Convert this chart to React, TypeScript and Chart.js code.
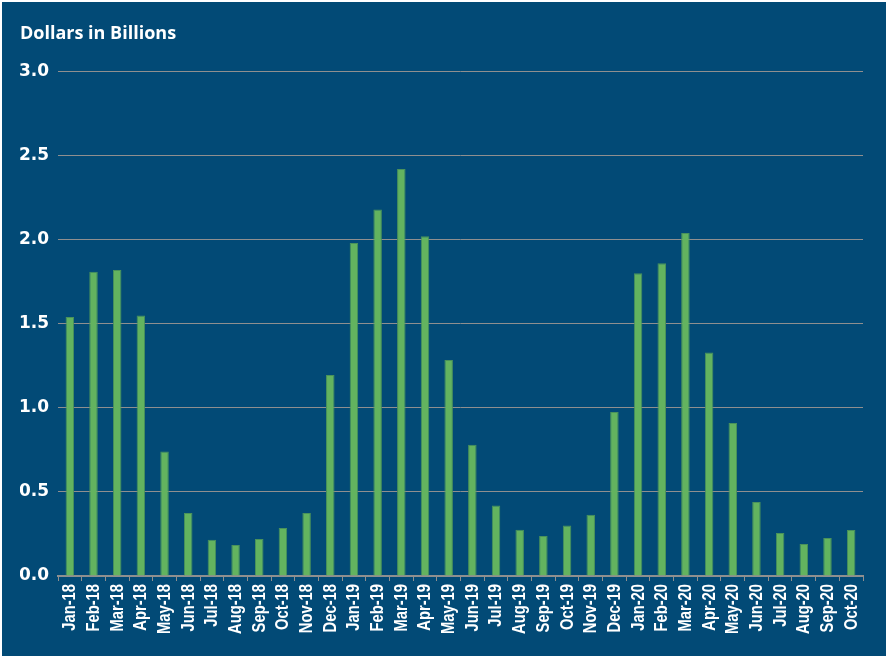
import React, { useEffect, useRef } from "react";
import { Chart, registerables } from "chart.js";

Chart.register(...registerables);

const categories: string[] = [
  "Jan-18", "Feb-18", "Mar-18", "Apr-18", "May-18", "Jun-18", "Jul-18", "Aug-18", "Sep-18", "Oct-18", "Nov-18", "Dec-18",
  "Jan-19", "Feb-19", "Mar-19", "Apr-19", "May-19", "Jun-19", "Jul-19", "Aug-19", "Sep-19", "Oct-19", "Nov-19", "Dec-19",
  "Jan-20", "Feb-20", "Mar-20", "Apr-20", "May-20", "Jun-20", "Jul-20", "Aug-20", "Sep-20", "Oct-20",
];

const values2018: number[] = [1.54, 1.81, 1.82, 1.55, 0.74, 0.375, 0.215, 0.185, 0.22, 0.285, 0.375, 1.195];
const values2019: number[] = [1.98, 2.18, 2.42, 2.02, 1.285, 0.78, 0.42, 0.275, 0.238, 0.30, 0.365, 0.976];
const values2020: number[] = [1.80, 1.86, 2.04, 1.33, 0.91, 0.44, 0.256, 0.19, 0.226, 0.274];

const yTicks: number[] = [0, 0.5, 1.0, 1.5, 2.0, 2.5, 3.0];
const yTitle = "Dollars in Billions";

const BG = "#024a76";

const bgPlugin = {
  id: "bgFill",
  beforeDraw(chart: any) {
    const { ctx, width, height } = chart;
    ctx.save();
    ctx.fillStyle = BG;
    ctx.fillRect(0, 0, width, height);
    ctx.restore();
  },
};

// Condensed, rotated category labels drawn from the category scale
const xLabelPlugin = {
  id: "condensedXLabels",
  afterDraw(chart: any) {
    const { ctx } = chart;
    const xScale = chart.scales.x;
    const bottom = chart.chartArea.bottom;
    ctx.save();
    ctx.fillStyle = "#ffffff";
    ctx.font = "bold 18px 'Liberation Sans', Arial, sans-serif";
    ctx.textAlign = "right";
    ctx.textBaseline = "middle";
    const labels: string[] = chart.data.labels;
    labels.forEach((lab, i) => {
      const x = xScale.getPixelForTick(i);
      ctx.save();
      ctx.translate(x + 0.5, bottom + 8);
      ctx.rotate(-Math.PI / 2);
      ctx.scale(0.82, 1);
      ctx.fillText(lab, 0, 0);
      ctx.restore();
    });
    ctx.restore();
  },
};

export default function App() {
  const ref = useRef<HTMLCanvasElement | null>(null);

  useEffect(() => {
    if (!ref.current) return;
    const values = [...values2018, ...values2019, ...values2020];
    const chart = new Chart(ref.current, {
      type: "bar",
      data: {
        labels: categories,
        datasets: [
          {
            data: values,
            backgroundColor: "#63b35f",
            borderColor: "#4a925b",
            borderWidth: 1,
            barPercentage: 0.36,
            categoryPercentage: 1,
          },
        ],
      },
      options: {
        responsive: false,
        animation: false,
        layout: { padding: { left: 18, right: 23, top: 21, bottom: 75 } },
        plugins: {
          legend: { display: false },
          tooltip: { enabled: false },
          title: {
            display: true,
            text: yTitle,
            align: "start",
            color: "#ffffff",
            font: { family: "'Open Sans', 'Liberation Sans', sans-serif", size: 18, weight: "bold" },
            padding: { top: 0, bottom: 27 },
          },
        },
        scales: {
          x: {
            offset: true,
            grid: {
              display: true,
              offset: true,
              drawOnChartArea: false,
              drawTicks: true,
              tickLength: 5,
              color: "#8f8f8f",
            },
            border: { display: true, color: "#8f8f8f", width: 2 },
            ticks: {
              display: false,
              autoSkip: false,
            },
          },
          y: {
            min: 0,
            max: 3,
            afterBuildTicks(scale: any) {
              scale.ticks = yTicks.map((v) => ({ value: v }));
            },
            afterFit(scale: any) {
              scale.width = 38;
            },
            grid: { color: "#8f8f8f", drawTicks: false, lineWidth: 1 },
            border: { display: false },
            ticks: {
              color: "#ffffff",
              padding: 9,
              font: { family: "'DejaVu Sans', 'Liberation Sans', sans-serif", size: 17, weight: "bold" },
              callback: (v: any) => Number(v).toFixed(1),
            },
          },
        },
      },
      plugins: [bgPlugin, xLabelPlugin],
    });
    return () => chart.destroy();
  }, []);

  return (
    <div style={{ position: "fixed", left: 0, top: 0, width: 886, height: 656, background: "#ffffff" }}>
      <canvas
        ref={ref}
        width={884}
        height={654}
        style={{ position: "absolute", left: 2, top: 2, width: 884, height: 654 }}
      />
    </div>
  );
}
